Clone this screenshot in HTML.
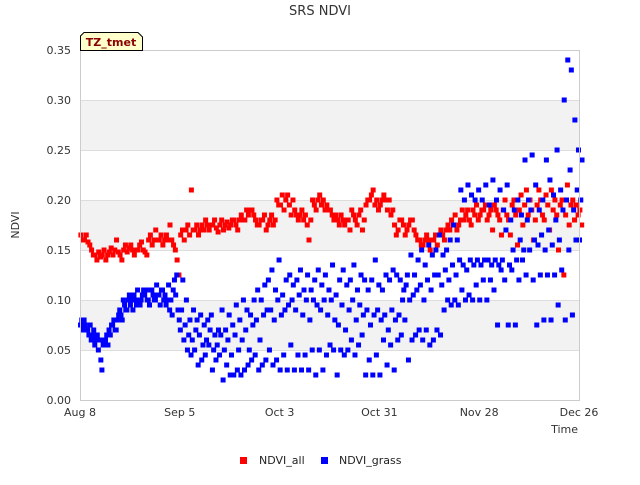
<!DOCTYPE html>
<html><head><meta charset="utf-8"><style>
body{margin:0;background:#fff;font-family:"Liberation Sans","DejaVu Sans",sans-serif}
svg text{font-family:"DejaVu Sans","Liberation Sans",sans-serif}
</style></head><body>
<svg id="chart" width="640" height="480" viewBox="0 0 640 480" xmlns="http://www.w3.org/2000/svg">
<rect width="640" height="480" fill="#fff"/>
<text x="320" y="15" text-anchor="middle" font-size="13" fill="#333">SRS NDVI</text>
<g id="bands"></g><g id="grid"></g>
<g id="pts"></g>
<rect x="80.5" y="50.5" width="499" height="350" fill="none" stroke="#ccc"/>
<g id="yt"></g><g id="xt"></g>
<text transform="translate(19,225) rotate(-90)" text-anchor="middle" font-size="11" fill="#333">NDVI</text>
<text x="578" y="433" text-anchor="end" font-size="11" fill="#333">Time</text>
<g>
<path d="M80.5,50.5 L80.5,36 L84,32.5 L138,32.5 L142.5,37 L142.5,50.5 Z" fill="#ffffcc" stroke="#000"/>
<text x="111" y="46" text-anchor="middle" font-size="11" font-weight="bold" fill="#8b0000">TZ_tmet</text>
</g>
<g><rect x="240" y="457" width="7" height="7" fill="#f00"/><text x="259" y="464" font-size="11" fill="#222">NDVI_all</text></g>
<g><rect x="321" y="457" width="7" height="7" fill="#00f"/><text x="339" y="464" font-size="11" fill="#222">NDVI_grass</text></g>
</svg>
<script>
const xTickLabels=["Aug 8","Sep 5","Oct 3","Oct 31","Nov 28","Dec 26"];
const xTickDays=[0,28,56,84,112,140];
const yTicks=[0,0.05,0.10,0.15,0.20,0.25,0.30,0.35];
const allOffsets=[0.25,0.75];
const allValues=[.165,.16,.16,.165,.158,.155,.15,.145,.145,.14,.148,.143,.145,.15,.14,.145,.148,.152,.145,.15,.16,.148,.145,.14,.15,.155,.148,.152,.155,.15,.145,.15,.15,.155,.158,.15,.148,.145,.16,.165,.155,.16,.17,.16,.16,.165,.155,.16,.165,.16,.175,.16,.155,.15,.14,.125,.165,.17,.16,.17,.175,.165,.21,.17,.17,.175,.165,.17,.175,.17,.18,.175,.17,.175,.175,.18,.172,.168,.175,.18,.17,.175,.178,.172,.175,.18,.18,.175,.17,.18,.185,.18,.18,.19,.185,.19,.19,.185,.18,.175,.175,.18,.18,.185,.17,.175,.18,.185,.175,.18,.2,.195,.195,.205,.19,.2,.205,.195,.185,.2,.19,.185,.18,.185,.19,.18,.185,.175,.16,.18,.2,.195,.19,.2,.205,.195,.2,.19,.195,.19,.19,.185,.18,.185,.18,.175,.185,.18,.175,.18,.18,.17,.19,.185,.18,.175,.185,.19,.17,.18,.195,.2,.2,.205,.21,.195,.2,.19,.195,.2,.205,.2,.19,.2,.185,.19,.175,.165,.17,.18,.18,.175,.165,.17,.175,.18,.18,.17,.165,.16,.16,.155,.155,.16,.165,.16,.15,.16,.16,.165,.155,.165,.17,.165,.16,.17,.175,.17,.18,.175,.185,.17,.175,.18,.19,.18,.185,.19,.18,.175,.19,.185,.195,.18,.185,.19,.19,.195,.18,.185,.19,.17,.195,.19,.185,.18,.165,.19,.2,.185,.18,.165,.195,.2,.185,.155,.19,.205,.175,.195,.21,.185,.2,.19,.16,.18,.195,.21,.2,.185,.18,.205,.195,.17,.21,.19,.2,.185,.15,.195,.2,.125,.185,.215,.175,.195,.2,.18,.195,.185,.19,.175];
const grassOffsets=[0.15,0.5,0.85];
const grassValues=[.075,.08,.07,.08,.075,.07,.07,.065,.075,.06,.065,.07,.055,.06,.065,.05,.06,.04,.03,.055,.06,.06,.065,.055,.07,.065,.075,.075,.08,.07,.07,.08,.085,.09,.085,.08,.1,.095,.09,.09,.1,.105,.095,.1,.09,.105,.1,.095,.11,.1,.095,.1,.105,.11,.105,.11,.1,.1,.095,.11,.11,.105,.1,.1,.115,.105,.105,.095,.11,.11,.1,.105,.095,.1,.115,.09,.1,.085,.11,.12,.105,.125,.09,.08,
.07,.09,.12,.06,.075,.1,.05,.065,.08,.045,.06,.09,.05,.07,.08,.035,.065,.085,.04,.055,.075,.045,.06,.08,.055,.07,.085,.03,.05,.065,.04,.055,.07,.045,.065,.09,.02,.05,.07,.035,.06,.085,.025,.045,.075,.025,.065,.095,.03,.05,.08,.025,.06,.1,.03,.07,.09,.035,.05,.085,.04,.075,.1,.045,.08,.11,.03,.06,.1,.035,.085,.115,.04,.09,.12,.05,.09,.13,.035,.08,.11,.04,.1,.14,.03,.085,.105,.045,.09,.12,.03,.095,.125,.055,.1,.115,.03,.09,.12,.045,.105,.13,.03,.085,.11,.045,.1,.125,.03,.08,.11,.05,.1,.12,.025,.095,.13,.05,.09,.115,.03,.1,.125,.045,.085,.11,.055,.1,.135,.05,.08,.105,.025,.075,.12,.05,.095,.13,.045,.07,.115,.05,.09,.12,.06,.1,.135,.045,.08,.11,.055,.095,.125,.065,.085,.12,.025,.09,.11,.04,.075,.12,.025,.085,.14,.045,.09,.115,.025,.08,.11,.06,.085,.125,.035,.07,.12,.055,.09,.13,.03,.08,.125,.06,.085,.12,.065,.1,.11,.08,.115,.125,.04,.1,.145,.06,.105,.125,.065,.11,.14,.07,.115,.15,.06,.1,.135,.07,.12,.155,.055,.11,.145,.06,.125,.15,.07,.125,.165,.065,.115,.145,.09,.13,.15,.1,.12,.16,.095,.135,.175,.1,.125,.16,.095,.14,.21,.11,.135,.2,.1,.13,.215,.105,.14,.205,.1,.135,.2,.115,.14,.21,.1,.135,.2,.12,.14,.215,.1,.14,.195,.12,.135,.22,.11,.14,.2,.075,.135,.21,.13,.14,.19,.12,.17,.215,.075,.135,.18,.13,.15,.19,.075,.14,.2,.12,.16,.185,.14,.15,.24,.125,.18,.2,.15,.19,.245,.12,.16,.215,.075,.155,.19,.125,.165,.2,.08,.15,.24,.125,.17,.22,.08,.155,.205,.125,.18,.25,.095,.16,.21,.13,.19,.3,.08,.2,.34,.15,.23,.33,.085,.19,.28,.16,.21,.25,.16,.2,.24];

const X0=80,X1=579,Y0=400,Y1=50,DMAX=140,VMAX=0.35;
const xs=d=>X0+d/DMAX*(X1-X0);
const ys=v=>Y0-v/VMAX*(Y0-Y1);
const NS="http://www.w3.org/2000/svg";
function mk(tag,parent,attrs){const e=document.createElementNS(NS,tag);for(const k in attrs)e.setAttribute(k,attrs[k]);document.getElementById(parent).appendChild(e);return e;}
for(let i=0;i<yTicks.length-1;i++){
  if(i%2===1){const r=mk('rect','bands',{x:X0,y:ys(yTicks[i+1]),width:X1-X0,height:ys(yTicks[i])-ys(yTicks[i+1]),fill:'#f2f2f2'});
  
  }
}
yTicks.forEach(v=>{
  const l=mk('line','grid',{x1:X0,x2:X1,y1:Math.round(ys(v))+0.5,y2:Math.round(ys(v))+0.5,stroke:'#ddd'});
  
  
  const t=mk('text','yt',{x:71,y:ys(v)+4,'text-anchor':'end','font-size':'11',fill:'#333'});
  t.textContent=v.toFixed(2);
  
  
});
xTickDays.forEach((d,i)=>{
  const t=mk('text','xt',{x:xs(d),y:416,'text-anchor':'middle','font-size':'11',fill:'#333'});
  t.textContent=xTickLabels[i];
  
  
});
function plot(vals,offs,color,name){
  vals.forEach((v,i)=>{
    const d=Math.floor(i/offs.length)+offs[i%offs.length];
    const r=mk('rect','pts',{x:xs(d)-2.5,y:ys(v)-2.5,width:5,height:5,fill:color});
    
    
  });
}
plot(allValues,allOffsets,'#f00','ndvi-all-point');
plot(grassValues,grassOffsets,'#00f','ndvi-grass-point');
</script>
</body></html>
